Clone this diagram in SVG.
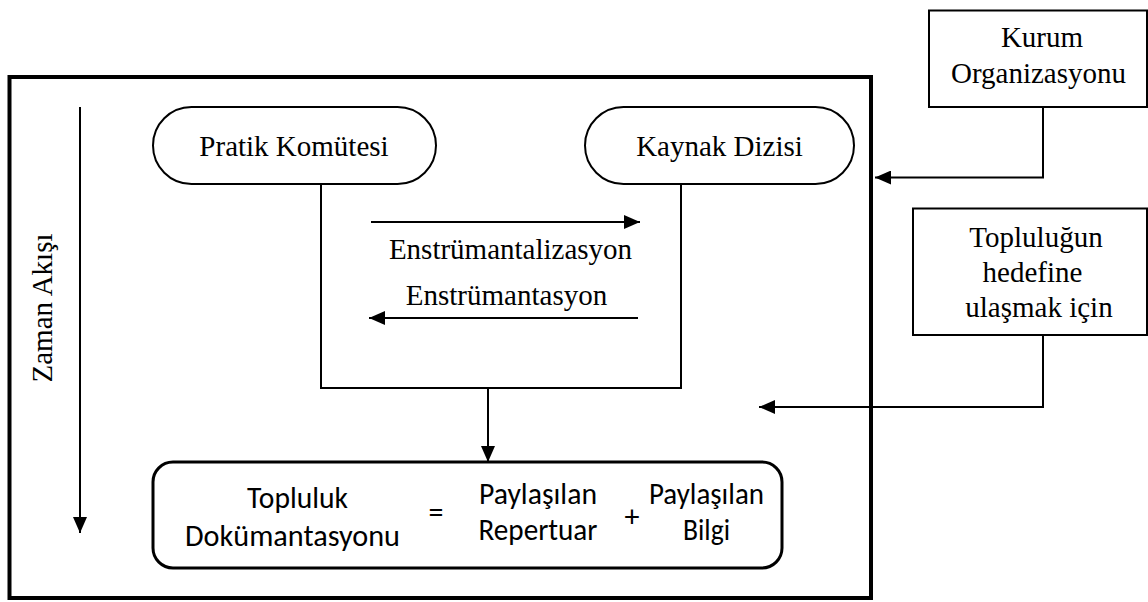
<svg xmlns="http://www.w3.org/2000/svg" width="1148" height="602" viewBox="0 0 1148 602">
  <style>
    .serif { font-family: "Liberation Serif", "Times New Roman", serif; font-size: 29px; fill: #000; text-anchor: middle; }
    .sans { font-family: Carlito, Lato, "Open Sans", sans-serif; font-size: 30px; fill: #000; text-anchor: middle; }
    .shape { fill: #fff; stroke: #000; stroke-width: 2; }
    .line { fill: none; stroke: #000; stroke-width: 2; }
  </style>
  <defs>
    <marker id="arrow" viewBox="0 0 16 14" refX="16" refY="7" markerWidth="16" markerHeight="14" markerUnits="userSpaceOnUse" orient="auto">
      <path d="M0,0 L16,7 L0,14 Z" fill="#000"/>
    </marker>
  </defs>
  <rect width="1148" height="602" fill="#fff"/>

  <!-- outer frame -->
  <g id="frame">
    <rect x="9.5" y="77" width="861.5" height="521" fill="none" stroke="#000" stroke-width="4"/>
  </g>

  <!-- time axis -->
  <g id="time-axis">
    <line class="line" x1="80" y1="107" x2="80" y2="533" marker-end="url(#arrow)"/>
    <text class="serif" transform="translate(52,308) rotate(-90)">Zaman Akışı</text>
  </g>

  <g id="pratik-komutesi">
    <rect class="shape" x="153" y="107" width="283" height="77" rx="38.5" ry="38.5"/>
    <text class="serif" x="294" y="156">Pratik Komütesi</text>
  </g>

  <g id="kaynak-dizisi">
    <rect class="shape" x="585" y="107" width="269" height="77" rx="38.5" ry="38.5"/>
    <text class="serif" x="719.5" y="156">Kaynak Dizisi</text>
  </g>

  <g id="kurum-organizasyonu">
    <rect class="shape" x="929" y="10.5" width="218" height="96.5"/>
    <text class="serif" x="1042" y="47">Kurum</text>
    <text class="serif" x="1038.5" y="83">Organizasyonu</text>
  </g>

  <g id="toplulugun-hedefine">
    <rect class="shape" x="913" y="208.5" width="234" height="126.5"/>
    <text class="serif" x="1036" y="247">Topluluğun</text>
    <text class="serif" x="1032.5" y="282">hedefine</text>
    <text class="serif" x="1039" y="317">ulaşmak için</text>
  </g>

  <g id="topluluk-dokumantasyonu">
    <rect x="153" y="462" width="629" height="106" rx="20" ry="20" fill="#fff" stroke="#000" stroke-width="3"/>
    <text class="sans" x="297.5" y="508" textLength="101" lengthAdjust="spacingAndGlyphs">Topluluk</text>
    <text class="sans" x="292.5" y="546" textLength="215" lengthAdjust="spacingAndGlyphs">Dokümantasyonu</text>
    <text class="sans" x="436" y="522">=</text>
    <text class="sans" x="538" y="504" textLength="118" lengthAdjust="spacingAndGlyphs">Paylaşılan</text>
    <text class="sans" x="538" y="540" textLength="119" lengthAdjust="spacingAndGlyphs">Repertuar</text>
    <text class="sans" x="632" y="527">+</text>
    <text class="sans" x="706.5" y="504" textLength="115" lengthAdjust="spacingAndGlyphs">Paylaşılan</text>
    <text class="sans" x="706.5" y="540" textLength="47" lengthAdjust="spacingAndGlyphs">Bilgi</text>
  </g>

  <!-- connectors -->
  <g id="connectors">
    <polyline class="line" points="321,184 321,388 681,388 681,184"/>
    <line class="line" x1="371" y1="222" x2="640" y2="222" marker-end="url(#arrow)"/>
    <text class="serif" x="510.5" y="259">Enstrümantalizasyon</text>
    <text class="serif" x="506.5" y="305">Enstrümantasyon</text>
    <line class="line" x1="638" y1="318" x2="369" y2="318" marker-end="url(#arrow)"/>
    <line class="line" x1="488" y1="388" x2="488" y2="462" marker-end="url(#arrow)"/>
    <polyline class="line" points="1043,107 1043,177.5 875,177.5" marker-end="url(#arrow)"/>
    <polyline class="line" points="1043,335 1043,407 759,407" marker-end="url(#arrow)"/>
  </g>
</svg>
